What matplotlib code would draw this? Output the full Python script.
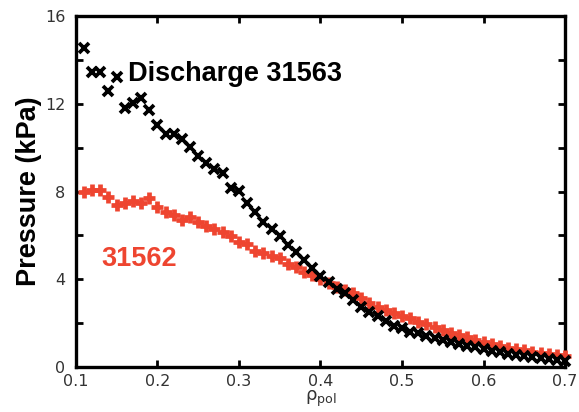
import matplotlib
matplotlib.use("Agg")
import matplotlib.pyplot as plt
from matplotlib.ticker import MultipleLocator

# rho_pol grid (shared by both discharges)
rho = [0.11, 0.12, 0.13, 0.14, 0.15, 0.16, 0.17, 0.18, 0.19, 0.20,
       0.21, 0.22, 0.23, 0.24, 0.25, 0.26, 0.27, 0.28, 0.29, 0.30,
       0.31, 0.32, 0.33, 0.34, 0.35, 0.36, 0.37, 0.38, 0.39, 0.40,
       0.41, 0.42, 0.43, 0.44, 0.45, 0.46, 0.47, 0.48, 0.49, 0.50,
       0.51, 0.52, 0.53, 0.54, 0.55, 0.56, 0.57, 0.58, 0.59, 0.60,
       0.61, 0.62, 0.63, 0.64, 0.65, 0.66, 0.67, 0.68, 0.69, 0.70]

# discharge 31563 (black)
p_31563 = [14.57, 13.48, 13.46, 12.60, 13.23, 11.84, 12.06, 12.29, 11.73, 11.03,
           10.62, 10.62, 10.39, 10.04, 9.63, 9.30, 9.02, 8.83, 8.17, 8.02,
           7.47, 7.08, 6.62, 6.29, 5.98, 5.56, 5.23, 4.88, 4.50, 4.15,
           3.85, 3.55, 3.36, 3.05, 2.74, 2.51, 2.32, 2.10, 1.84, 1.76,
           1.60, 1.52, 1.40, 1.30, 1.22, 1.11, 1.04, 0.96, 0.88, 0.80,
           0.73, 0.66, 0.60, 0.54, 0.48, 0.43, 0.38, 0.34, 0.30, 0.26]

# discharge 31562 (red)
p_31562 = [7.99, 8.08, 8.08, 7.73, 7.38, 7.47, 7.58, 7.50, 7.69, 7.28,
           7.08, 6.93, 6.71, 6.82, 6.62, 6.41, 6.29, 6.14, 5.96, 5.71,
           5.61, 5.30, 5.20, 5.07, 4.95, 4.69, 4.54, 4.34, 4.19, 4.00,
           3.81, 3.66, 3.51, 3.36, 3.13, 2.90, 2.74, 2.59, 2.44, 2.32,
           2.21, 2.06, 1.94, 1.80, 1.68, 1.56, 1.45, 1.35, 1.22, 1.12,
           1.02, 0.94, 0.87, 0.80, 0.74, 0.68, 0.62, 0.57, 0.52, 0.47]

xticks = [0.1, 0.2, 0.3, 0.4, 0.5, 0.6, 0.7]
xticklabels = ["0.1", "0.2", "0.3", "0.4", "0.5", "0.6", "0.7"]
yticks = [0, 4, 8, 12, 16]
yticklabels = ["0", "4", "8", "12", "16"]

red = "#ee4530"

fig = plt.figure(figsize=(5.79, 4.12), dpi=100)
ax = fig.add_axes([0.131, 0.11, 0.845, 0.85])

ax.plot(rho, p_31562, linestyle="none", marker="+", ms=8.5, mew=3.4, color=red, clip_on=False, zorder=3)
ax.plot(rho, p_31563, linestyle="none", marker="x", ms=7, mew=2.7, color="black", clip_on=False, zorder=4)

ax.set_xlim(0.1, 0.7)
ax.set_ylim(0, 16)
ax.set_xticks(xticks, xticklabels)
ax.set_yticks(yticks, yticklabels)
ax.yaxis.set_minor_locator(MultipleLocator(2))
ax.tick_params(which="both", direction="in", top=True, right=True,
               width=2, length=5, colors="black", labelcolor="#333333", labelsize=11.5)
ax.tick_params(axis="y", pad=7.5)
ax.tick_params(axis="x", pad=5)
for s in ax.spines.values():
    s.set_linewidth(2.4)

ax.set_xlabel(r"$\mathregular{\rho_{pol}}$", fontsize=13, color="#333333", labelpad=0)
ax.set_ylabel("Pressure (kPa)", fontsize=19.5, fontweight="bold",
              family="Liberation Sans", labelpad=2)

ax.text(0.164, 13.35, "Discharge 31563", fontsize=19.5, fontweight="bold",
        family="Liberation Sans", va="center", ha="left", color="black")
ax.text(0.131, 4.9, "31562", fontsize=19.5, fontweight="bold",
        family="Liberation Sans", va="center", ha="left", color=red)

fig.savefig("out.png", dpi=100)
